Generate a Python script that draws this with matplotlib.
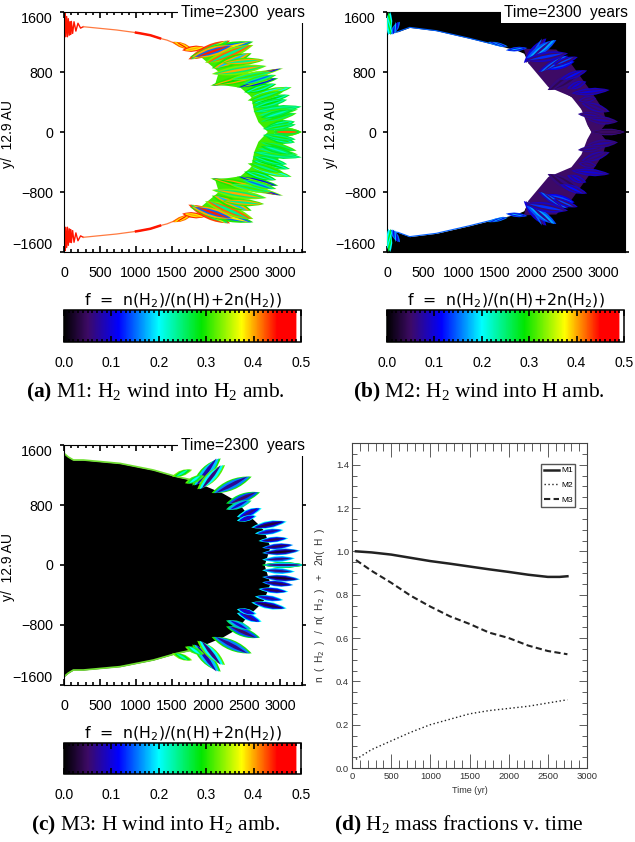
import numpy as np
import matplotlib
matplotlib.use('Agg')
import matplotlib.pyplot as plt
from matplotlib.path import Path
from matplotlib.patches import PathPatch
from matplotlib.colors import LinearSegmentedColormap
from matplotlib.cm import ScalarMappable
from matplotlib.colors import Normalize
from matplotlib.ticker import MultipleLocator

plt.rcParams['font.family'] = ['Liberation Sans', 'DejaVu Sans']
plt.rcParams['mathtext.fontset'] = 'custom'
plt.rcParams['mathtext.rm'] = 'Liberation Serif'
plt.rcParams['mathtext.bf'] = 'Liberation Serif:bold'
plt.rcParams['mathtext.sf'] = 'DejaVu Sans'

# colour table of the f scale
cmap_f = [0.0, 0.05, 0.115, 0.2, 0.29, 0.375, 0.45, 0.49, 0.492, 0.5]
cmap_c = ['black', '#3d0a66', '#0000ff', '#00ffff', '#00e600', '#ffff00',
          '#ff0000', '#ff0000', 'white', 'white']

# panel a: rim line, green band and spikes, upper half
a_wig_x = [0, 8, 14, 24, 37, 48, 60, 72, 83, 92, 102, 120, 139, 165, 194, 230, 268]
a_wig_y = [1600, 1300, 1582, 1270, 1540, 1270, 1511, 1290, 1471, 1300, 1475, 1315, 1470, 1345, 1450, 1385, 1404]
a_rim_x = [268, 731, 1000, 1056, 1200, 1333, 1430, 1519, 1620, 1704]
a_rim_y = [1404, 1360, 1325, 1316, 1290, 1249, 1225, 1191, 1150, 1102]
a_thick_x = [1000, 1056, 1200, 1333]
a_thick_y = [1325, 1316, 1290, 1249]
a_band_x = [1900, 2150, 2100, 2450, 2600, 2640, 2700, 2830, 2900, 3050, 3000, 2950, 2800, 2550, 2450, 2300]
a_band_y = [1000, 800, 640, 590, 470, 270, 130, 0, 0, 130, 270, 470, 600, 800, 1000, 1150]
a_x0 = [1727, 1750, 1958, 2051, 2051, 2028, 2050, 2398, 2300, 2583, 2606, 2630, 2699, 2884, 2815, 1500, 1640,
        2200, 2450, 2500, 2550, 2620, 2660, 2730, 2760, 1780]
a_x1 = [2306, 2630, 2630, 2606, 2815, 3046, 2800, 2977, 2900, 3162, 3139, 3301, 3231, 3301, 3208, 1780, 1960,
        2780, 2950, 2950, 3050, 3100, 3250, 3180, 3220, 2350]
a_y0 = [969, 1004, 924, 849, 773, 613, 625, 596, 700, 471, 382, 271, 138, 0, 71, 1200, 1090,
        920, 640, 530, 420, 330, 220, 190, 40, 1000]
a_y1 = [1218, 1204, 1160, 1049, 880, 849, 770, 716, 800, 596, 493, 338, 249, 0, 138, 1110, 1130,
        960, 760, 640, 540, 430, 300, 290, 100, 1150]
a_w = [70, 75, 70, 65, 60, 45, 55, 45, 50, 50, 50, 50, 50, 55, 50, 35, 40, 50, 45, 50, 50, 50, 45, 45, 45, 60]
a_f1 = [.43, .30, .33, .30, .33, .33, .30, .30, .33, .31, .28, .27, .31, .31, .28, .42, .44,
        .31, .31, .29, .31, .27, .31, .28, .27, .40]
a_f2 = [.25, .15, .42, .40, .25, .12, .40, .12, .24, .20, .22, .23, .25, .27, .22, .38, .38,
        .40, .24, .22, .30, .23, .24, .26, .24, .15]
a_f3 = [.38, .38, .24, .18, .40, .42, .29, .33, .31, .33, .29, .26, .30, .42, .30, .45, .40,
        .24, .15, .30, .24, .29, .25, .22, .30, .44]

# panel b: inside of the cavity, purple band and spikes, upper half
b_rim_x = [0, 153, 315, 685, 1148, 1611, 1800, 1900, 1960, 2100, 2200, 2300, 2240, 2400, 2560, 2650, 2700, 2800, 2780, 2838]
b_rim_y = [1315, 1338, 1395, 1351, 1249, 1138, 1090, 1050, 920, 830, 800, 700, 600, 560, 470, 400, 300, 170, 100, 0]
b_band_x = [1900, 2350, 2550, 2700, 2850, 3000, 3050, 2950, 2838, 2780, 2700, 2560, 2240, 1960]
b_band_y = [1110, 1100, 920, 720, 520, 300, 120, 0, 0, 100, 300, 470, 600, 920]
b_x0 = [1900, 1935, 1912, 2150, 2230, 2500, 2560, 2660, 2700, 2780, 2838, 1400, 1650, 50, 20, 2400, 2100, 2300, 2650]
b_x1 = [2213, 2352, 2514, 2606, 2722, 2769, 3093, 2907, 3093, 3208, 3301, 1680, 1950, 180, 45, 2780, 2520, 2650, 3000]
b_y0 = [920, 982, 960, 849, 560, 580, 516, 420, 382, 170, 0, 1200, 1090, 1300, 1290, 700, 800, 900, 240]
b_y1 = [1249, 1227, 1049, 938, 804, 671, 560, 449, 271, 138, 0, 1140, 1120, 1470, 1600, 820, 1020, 1000, 210]
b_w = [60, 60, 65, 60, 75, 50, 50, 45, 55, 55, 45, 25, 30, 40, 40, 50, 45, 45, 45]
b_f1 = [.10, .14, .09, .11, .06, .09, .09, .08, .08, .07, .06, .16, .14, .15, .20, .09, .09, .10, .07]
b_f2 = [.06, .17, .05, .14, .04, .06, .06, .05, .05, .05, .04, .10, .10, .10, .28, .06, .15, .05, .05]
b_f3 = [.15, .07, .13, .05, .06, .10, .10, .07, .07, .08, .05, .18, .18, .18, .20, .12, .06, .14, .08]

# panel c: black interior and spikes, upper half
c_rim_x = [0, 60, 130, 268, 778, 1240, 1565, 1800, 1950, 2200, 2400, 2537, 2680, 2770, 2860, 2780]
c_rim_y = [1489, 1440, 1400, 1400, 1355, 1267, 1178, 1130, 1060, 960, 850, 689, 560, 467, 244, 0]
c_x0 = [1780, 1850, 2050, 2250, 2250, 2400, 2400, 2600, 2650, 2700, 2750, 2750, 2750, 2750, 1500, 1680]
c_x1 = [2176, 2236, 2606, 2722, 2606, 2745, 2676, 3093, 3046, 3116, 3185, 3278, 3208, 3347, 1780, 1950]
c_y0 = [1060, 1010, 960, 820, 740, 640, 590, 500, 420, 320, 230, 160, 70, 0, 1180, 1090]
c_y1 = [1422, 1333, 1178, 969, 858, 756, 653, 578, 467, 356, 267, 191, 89, 0, 1270, 1190]
c_w = [75, 70, 70, 60, 50, 50, 40, 50, 40, 40, 40, 45, 40, 40, 40, 45]
c_f1 = [.30, .32, .30, .28, .25, .20, .20, .20, .20, .20, .17, .18, .20, .28, .33, .32]
c_f2 = [.18, .20, .16, .14, .17, .12, .11, .10, .13, .11, .10, .09, .15, .18, .28, .27]
c_f3 = [.08, .06, .07, .05, .09, .06, .08, .03, .07, .04, .04, .02, .06, .06, .22, .20]

# panel d: mass fractions
t1 = [50, 250, 500, 750, 1000, 1250, 1500, 1750, 2000, 2250, 2500, 2650, 2750]
m1 = [1.0, .995, .985, .97, .955, .943, .93, .917, .905, .892, .882, .882, .885]
t2 = [50, 250, 500, 750, 1000, 1250, 1500, 1750, 2000, 2250, 2500, 2750]
m2 = [.04, .085, .125, .165, .20, .225, .25, .265, .275, .285, .30, .315]
m3 = [.96, .91, .855, .795, .745, .70, .665, .625, .60, .565, .54, .525]

x_ticks = [0, 500, 1000, 1500, 2000, 2500, 3000]
y_ticks = [-1600, -800, 0, 800, 1600]
y_labels = ['\u22121600', '\u2212800', '0', '800', '1600']
bar_ticks = [0.0, 0.1, 0.2, 0.3, 0.4, 0.5]
f_label = r'f  =  n(H$_{\mathsf{2}}$)/(n(H)+2n(H$_{\mathsf{2}}$))'

W, H = 635.0, 842.0
fig = plt.figure(figsize=(6.35, 8.42), dpi=100)
cm = LinearSegmentedColormap.from_list('f', [(v / 0.5, c) for v, c in zip(cmap_f, cmap_c)], N=512)
norm = Normalize(0, 0.5)


def box(left, top, right, bottom):
    return [left / W, 1 - bottom / H, (right - left) / W, (bottom - top) / H]


def lens(ax, x0, y0, x1, y1, w, f, z):
    # thin leaf shape from base to tip, w is the half width at the middle
    dx, dy = x1 - x0, y1 - y0
    n = np.hypot(dx, dy)
    mx, my = (x0 + x1) / 2, (y0 + y1) / 2
    px, py = -dy / n * w * 2, dx / n * w * 2
    verts = [(x0, y0), (mx + px, my + py), (x1, y1), (mx - px, my - py), (x0, y0)]
    codes = [Path.MOVETO, Path.CURVE3, Path.CURVE3, Path.CURVE3, Path.CURVE3]
    ax.add_patch(PathPatch(Path(verts, codes), fc=cm(norm(f)), ec='none', zorder=z))


def spikes(ax, x0, y0, x1, y1, w, f1, f2, f3, k2=0.62, k3=0.28):
    for sgn in (1, -1):
        for i in range(len(x0)):
            z = 3 + i * 0.01
            lens(ax, x0[i], sgn * y0[i], x1[i], sgn * y1[i], w[i], f1[i], z)
            lens(ax, x0[i] + 30, sgn * y0[i], x1[i] - 25, sgn * y1[i], w[i] * k2, f2[i], z + 0.002)
            lens(ax, x0[i] + 60, sgn * y0[i], x1[i] - 60, sgn * y1[i], w[i] * k3, f3[i], z + 0.004)


def map_axes(left, top):
    ax = fig.add_axes(box(left, top, left + 238, top + 240))
    ax.set_xlim(0, 3305)
    ax.set_ylim(-1600, 1600)
    ax.set_xticks(x_ticks)
    ax.set_yticks(y_ticks, y_labels)
    ax.get_yticklabels()[0].set_va('bottom')
    ax.get_yticklabels()[-1].set_va('top')
    ax.xaxis.set_minor_locator(MultipleLocator(100))
    ax.tick_params(axis='x', which='major', direction='in', top=True, length=4.5, width=1.2, pad=10, labelsize=10.3)
    ax.tick_params(axis='x', which='minor', direction='in', top=True, length=2, width=1.2)
    ax.tick_params(axis='y', which='major', direction='out', right=True, length=3, width=1.2, pad=5, labelsize=10.3)
    ax.set_ylabel('y/  12.9 AU', fontsize=10)
    ax.yaxis.set_label_coords(-0.206, 0.49)
    ax.text(1.012, 1.0, 'Time=2300  years', transform=ax.transAxes, ha='right', va='center', fontsize=11.2,
            zorder=20, bbox=dict(fc='white', ec='none', pad=2.5), clip_on=False)
    return ax


def bar_axes(left, top, bottom):
    ax = fig.add_axes(box(left, top, left + 237, bottom))
    cb = fig.colorbar(ScalarMappable(norm=norm, cmap=cm), cax=ax, orientation='horizontal')
    cb.set_ticks(bar_ticks)
    cb.ax.xaxis.set_major_formatter('{x:.1f}')
    cb.ax.xaxis.set_minor_locator(MultipleLocator(0.01))
    cb.ax.tick_params(axis='x', which='major', direction='in', top=True, length=4.5, width=1.2, pad=10, labelsize=10)
    cb.ax.tick_params(axis='x', which='minor', direction='in', top=True, length=2, width=1.2)
    cb.outline.set_linewidth(1.1)
    ax.set_title(f_label, fontsize=11.3, pad=2, family=['DejaVu Sans'])


# panel a
ax = map_axes(64, 12)
for sgn in (1, -1):
    ax.plot(a_wig_x, [sgn * v for v in a_wig_y], color='#ff1500', lw=1.0, zorder=2)
    ax.plot(a_rim_x, [sgn * v for v in a_rim_y], color='#ff7a40', lw=0.9, zorder=2)
    ax.plot(a_thick_x, [sgn * v for v in a_thick_y], color='#ff1500', lw=1.8, zorder=2)
    ax.fill(a_band_x, [sgn * v for v in a_band_y], color=cm(norm(0.31)), lw=0, zorder=2)
spikes(ax, a_x0, a_y0, a_x1, a_y1, a_w, a_f1, a_f2, a_f3)

# panel b
ax = map_axes(387, 12)
ax.set_facecolor('black')
ax.fill_between(b_rim_x, b_rim_y, [-v for v in b_rim_y], color='white', lw=0, zorder=1)
for sgn in (1, -1):
    ax.plot(b_rim_x[:6], [sgn * v for v in b_rim_y[:6]], color='#0060ff', lw=0.8, zorder=2)
    ax.fill(b_band_x, [sgn * v for v in b_band_y], color=cm(norm(0.05)), lw=0, zorder=2)
spikes(ax, b_x0, b_y0, b_x1, b_y1, b_w, b_f1, b_f2, b_f3)

# panel c
ax = map_axes(64, 445)
ax.fill_between(c_rim_x, c_rim_y, [-v for v in c_rim_y], color='black', lw=0, zorder=1)
for sgn in (1, -1):
    ax.plot(c_rim_x[:8], [sgn * v for v in c_rim_y[:8]], color='#70e030', lw=1.2, zorder=2)
spikes(ax, c_x0, c_y0, c_x1, c_y1, c_w, c_f1, c_f2, c_f3, k2=0.78, k3=0.36)

bar_axes(64, 310, 342)
bar_axes(387, 310, 342)
bar_axes(64, 743, 774)

# panel d
ax = fig.add_axes(box(352, 443, 587, 768))
ax.plot(t1, m1, color='#222222', lw=1.8, label='M1')
ax.plot(t2, m2, color='#222222', lw=1.0, ls=(0, (1, 1.8)), label='M2')
ax.plot(t2, m3, color='#222222', lw=1.5, ls=(0, (3, 1.6)), label='M3')
ax.set_xlim(0, 3000)
ax.set_ylim(0, 1.5)
ax.xaxis.set_major_locator(MultipleLocator(500))
ax.xaxis.set_minor_locator(MultipleLocator(100))
ax.yaxis.set_major_locator(MultipleLocator(0.2))
ax.yaxis.set_minor_locator(MultipleLocator(0.05))
ax.yaxis.set_major_formatter('{x:.1f}')
narrow = ['Liberation Sans Narrow', 'Liberation Sans']
ax.tick_params(axis='x', which='major', direction='in', top=True, length=10, width=0.6, pad=3, color='#444444')
ax.tick_params(axis='x', which='minor', direction='in', top=True, length=5.5, width=0.6, color='#444444')
ax.tick_params(axis='y', which='major', direction='in', right=True, length=6, width=0.6, pad=2, color='#444444')
ax.tick_params(axis='y', which='minor', direction='in', right=True, length=3.3, width=0.6, color='#444444')
for lab in ax.get_xticklabels() + ax.get_yticklabels():
    lab.set_fontfamily(narrow)
    lab.set_fontsize(6.8)
    lab.set_color('#333333')
for s in ax.spines.values():
    s.set_linewidth(0.8)
    s.set_color('#444444')
ax.set_xlabel('Time (yr)', fontsize=6.5, family=narrow, color='#333333')
ax.xaxis.set_label_coords(0.5, -0.056, transform=ax.transAxes)
ax.set_ylabel(r'n  (  H$_{\mathsf{2}}$  )   /  n(  H$_{\mathsf{2}}$  )   +   2n(  H  )', fontsize=7.3, color='#333333')
ax.yaxis.set_label_coords(-0.106, 0.5)
ax.legend(loc='upper right', bbox_to_anchor=(0.95, 0.935), frameon=True, fancybox=False,
          edgecolor='#555555', framealpha=1, borderpad=0.3, labelspacing=0.85, handlelength=1.9,
          handletextpad=0.2, borderaxespad=0, prop={'family': narrow, 'size': 6.0})

# sub captions
caps = [(155, r'$\mathbf{(a)}$ M1: H$_2$ wind into H$_2$ amb.', 392),
        (479, r'$\mathbf{(b)}$ M2: H$_2$ wind into H amb.', 392),
        (156, r'$\mathbf{(c)}$ M3: H wind into H$_2$ amb.', 825),
        (459, r'$\mathbf{(d)}$ H$_2$ mass fractions v. time', 825)]
for x, txt, y in caps:
    fig.text(x / W, 1 - y / H, txt, ha='center', va='center', fontsize=15.4, family='Liberation Serif')

fig.savefig('out.png', dpi=100)
